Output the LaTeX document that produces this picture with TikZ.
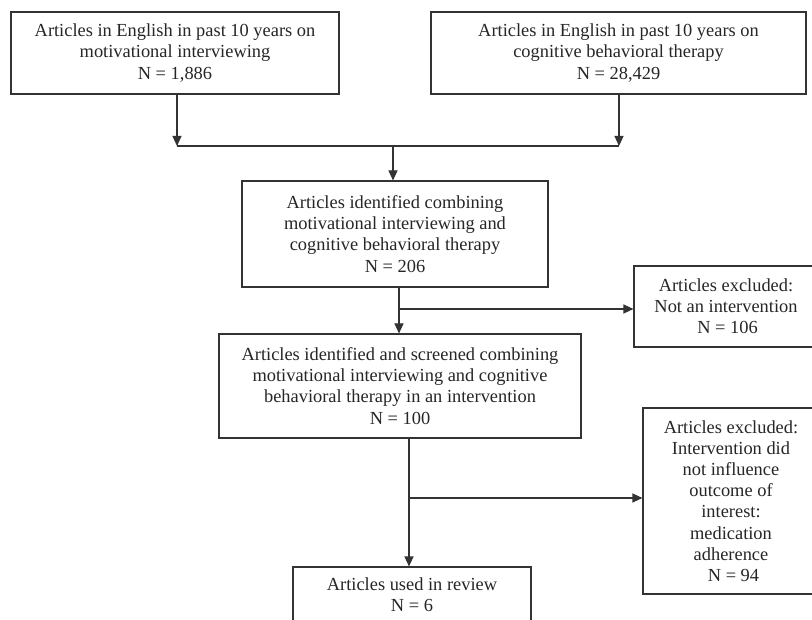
\documentclass[tikz,border=0pt]{standalone}
\usepackage{fontspec}
\setmainfont{Liberation Serif}
\usetikzlibrary{arrows.meta}
\begin{document}
\begin{tikzpicture}[x=1pt,y=-1pt,
  box/.style={draw=black!80, line width=1.1pt, inner sep=0pt, align=center,
    text=black!85, font=\fontsize{18.4}{21.2}\selectfont},
  link/.style={draw=black!80, line width=1.1pt},
  arr/.style={link, -{Triangle[length=10pt,width=9pt]}}]
\useasboundingbox (0,0) rectangle (812,620);
\clip (0,0) rectangle (812,620);
\fill[white] (0,0) rectangle (812,620);

\node[box, minimum width=328pt, minimum height=82pt] (b1) at (175,53)
  {Articles in English in past 10 years on\\motivational interviewing\\N = 1,886};
\node[box, minimum width=375pt, minimum height=82pt] (b2) at (618.5,53)
  {Articles in English in past 10 years on\\cognitive behavioral therapy\\N = 28,429};
\node[box, minimum width=306pt, minimum height=106pt] (b3) at (395,234)
  {Articles identified combining\\motivational interviewing and\\cognitive behavioral therapy\\N = 206};
\node[box, minimum width=184pt, minimum height=81pt] (e1) at (726,306.5)
  {Articles excluded:\\Not an intervention\\\hspace{3pt}N = 106};
\node[box, minimum width=362pt, minimum height=104pt] (b5) at (400,386)
  {Articles identified and screened combining\\motivational interviewing and cognitive\\behavioral therapy in an intervention\\N = 100};
\node[box, minimum width=176pt, minimum height=186pt] (e2) at (731,501)
  {Articles excluded:\\Intervention did\\not influence\\outcome of\\interest:\\medication\\adherence\\\hspace{5pt}N = 94};
\node[box, minimum width=238pt, minimum height=56pt] (b6) at (412,595)
  {Articles used in review\\N = 6};

\coordinate (m1) at (177,146);
\coordinate (m2) at (619,146);
\coordinate (m3) at (393,146);
\coordinate (s1) at (399,309);
\coordinate (s2) at (409,498);

\draw[arr] (m1 |- b1.south) -- (m1);
\draw[arr] (m2 |- b2.south) -- (m2);
\draw[link] (m1) -- (m2);
\draw[arr] (m3) -- (m3 |- b3.north);

\draw[link] (s1 |- b3.south) -- (s1);
\draw[arr] (s1) -- (s1 |- b5.north);
\draw[arr] (s1) -- (s1 -| e1.west);

\draw[link] (s2 |- b5.south) -- (s2);
\draw[arr] (s2) -- (s2 |- b6.north);
\draw[arr] (s2) -- (s2 -| e2.west);
\end{tikzpicture}
\end{document}
